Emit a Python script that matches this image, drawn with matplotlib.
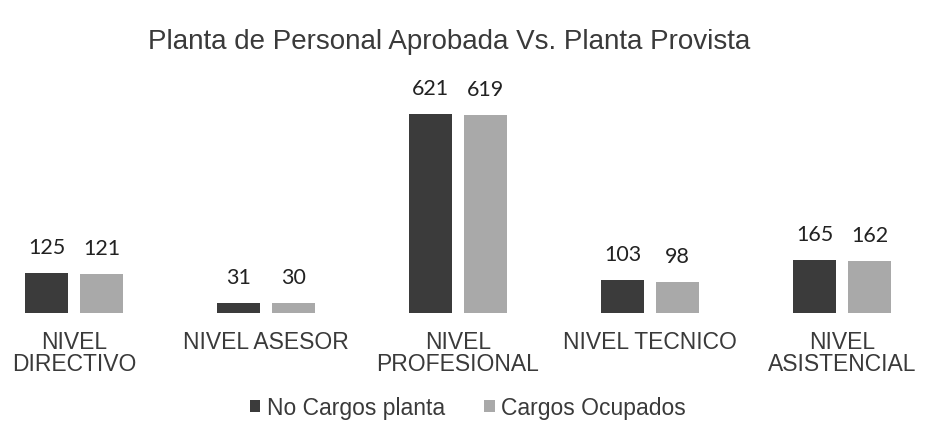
import matplotlib.pyplot as plt
import numpy as np

categorias = ['NIVEL\nDIRECTIVO', 'NIVEL ASESOR', 'NIVEL\nPROFESIONAL', 'NIVEL TECNICO', 'NIVEL\nASISTENCIAL']
planta = [125, 31, 621, 103, 165]
ocupados = [121, 30, 619, 98, 162]
series = ['No Cargos planta', 'Cargos Ocupados']
colores = ['#3b3b3b', '#a9a9a9']

fig = plt.figure(figsize=(9.25, 4.35), dpi=100)
ax = fig.add_axes([0, 121 / 435, 1, 234 / 435])

x = np.arange(len(categorias))
w = 0.224
off = 0.143
b1 = ax.bar(x - off, planta, w, color=colores[0], label=series[0])
b2 = ax.bar(x + off, ocupados, w, color=colores[1], label=series[1])

for bars in (b1, b2):
    for r in bars:
        ax.text(r.get_x() + r.get_width() / 2, r.get_height() + 50, str(int(r.get_height())),
                ha='center', va='bottom', fontsize=15.5, family='Lato', color='#222222')

ax.set_xlim(-74 / 192, (925 - 74) / 192)
ax.set_ylim(0, 731)
ax.set_xticks(x)
ax.set_xticklabels(categorias, family='Liberation Sans', fontsize=16.5, color='#3a3a3a',
                   linespacing=0.95)
ax.tick_params(axis='x', length=0, pad=12)
ax.set_yticks([])
for s in ax.spines.values():
    s.set_visible(False)

fig.text(0.486, 0.903, 'Planta de Personal Aprobada Vs. Planta Provista', ha='center', va='center',
         family='Liberation Sans', fontsize=20, color='#3a3a3a')

fig.legend(loc='center', bbox_to_anchor=(0.506, 0.06), ncol=2, frameon=False,
           prop={'family': 'Liberation Sans', 'size': 16.5}, handlelength=0.45, handleheight=0.45,
           handletextpad=0.3, columnspacing=1.7, labelcolor='#3a3a3a')

fig.savefig('out.png', dpi=100)
